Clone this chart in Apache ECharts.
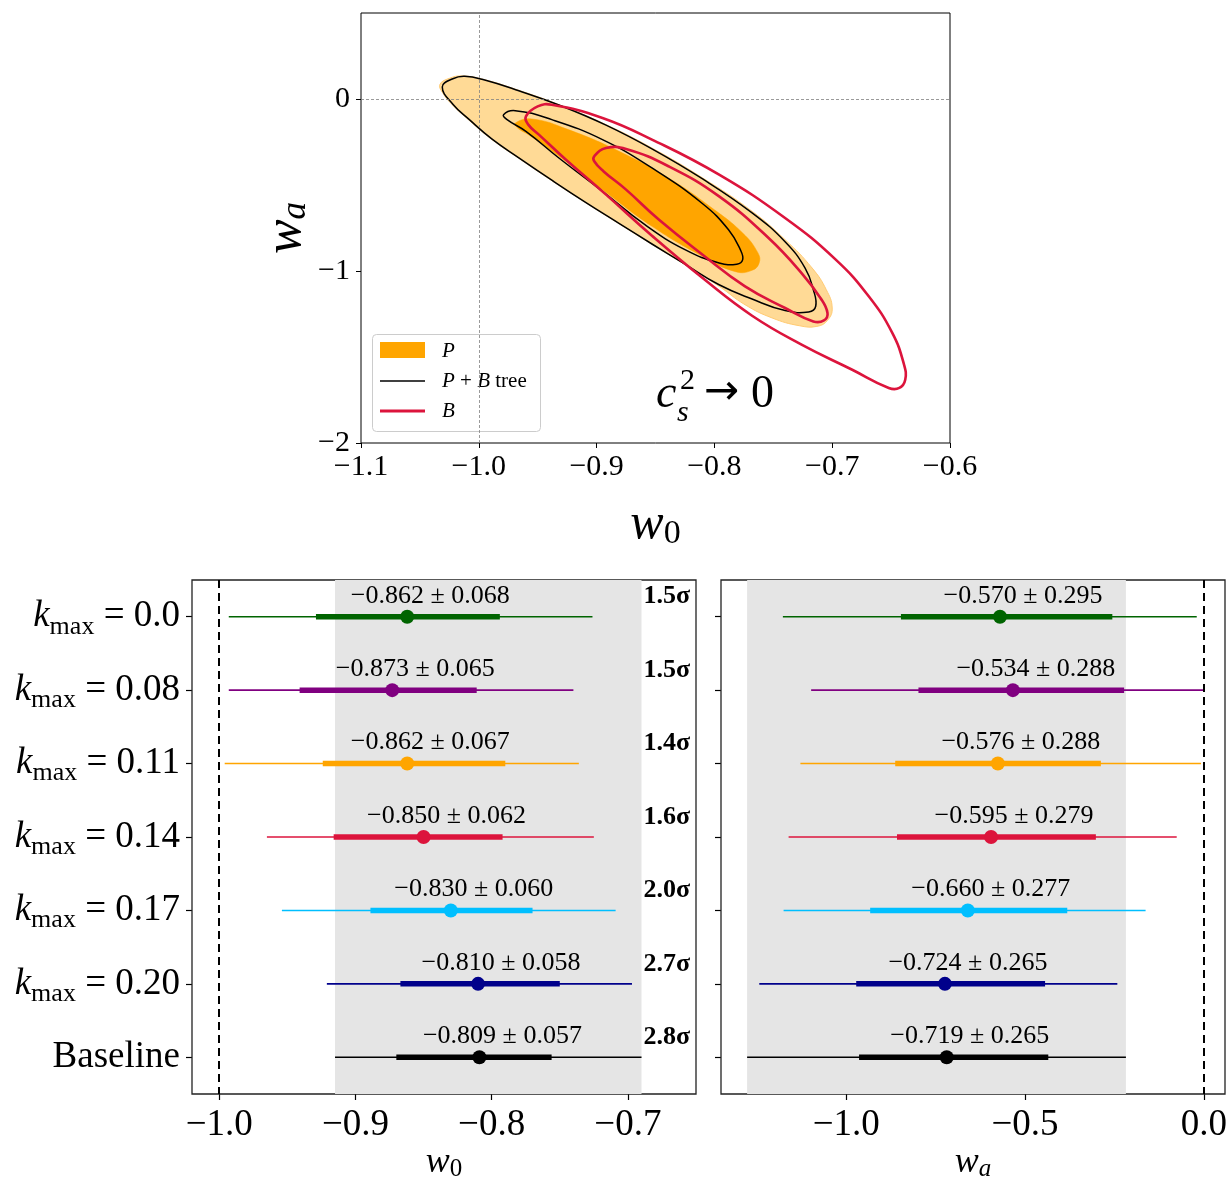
<!DOCTYPE html>
<html><head><meta charset="utf-8">
<script src="https://cdn.jsdelivr.net/npm/echarts@6/dist/echarts.min.js"></script>
<style>html,body{margin:0;padding:0;background:#fff}#c{width:1230px;height:1178px}</style>
</head><body><div id="c"></div>
<script>
// ---------- data ----------
// Top panel contours (w0, wa)
const contourP2 = [[-1.033,0.085],[-1.025,0.120],[-1.014,0.134],[-0.995,0.112],[-0.966,0.050],[-0.932,-0.033],[-0.892,-0.149],[-0.853,-0.285],[-0.810,-0.459],[-0.768,-0.653],[-0.740,-0.818],[-0.717,-0.983],[-0.705,-1.109],[-0.700,-1.215],[-0.704,-1.287],[-0.713,-1.322],[-0.728,-1.318],[-0.751,-1.273],[-0.774,-1.196],[-0.796,-1.089],[-0.825,-0.963],[-0.853,-0.845],[-0.881,-0.725],[-0.910,-0.600],[-0.938,-0.475],[-0.966,-0.345],[-0.989,-0.235],[-1.008,-0.125],[-1.023,-0.030],[-1.031,0.040]];
const contourP1 = [[-0.969,-0.140],[-0.955,-0.116],[-0.924,-0.178],[-0.881,-0.304],[-0.839,-0.459],[-0.802,-0.634],[-0.776,-0.779],[-0.763,-0.895],[-0.762,-0.953],[-0.768,-0.996],[-0.782,-1.004],[-0.810,-0.915],[-0.853,-0.740],[-0.895,-0.527],[-0.932,-0.333],[-0.958,-0.207],[-0.967,-0.169]];
const contourPB2 = [[-1.031,0.070],[-1.022,0.118],[-1.012,0.132],[-0.995,0.110],[-0.966,0.048],[-0.932,-0.035],[-0.892,-0.152],[-0.853,-0.290],[-0.810,-0.465],[-0.768,-0.662],[-0.740,-0.830],[-0.723,-0.983],[-0.716,-1.109],[-0.714,-1.205],[-0.720,-1.238],[-0.740,-1.230],[-0.768,-1.163],[-0.796,-1.080],[-0.825,-0.960],[-0.853,-0.843],[-0.881,-0.723],[-0.910,-0.598],[-0.938,-0.472],[-0.966,-0.342],[-0.989,-0.232],[-1.008,-0.120],[-1.022,-0.030]];
const contourPB1 = [[-0.979,-0.091],[-0.969,-0.068],[-0.938,-0.120],[-0.895,-0.236],[-0.853,-0.401],[-0.810,-0.609],[-0.788,-0.760],[-0.778,-0.876],[-0.776,-0.934],[-0.781,-0.961],[-0.796,-0.953],[-0.825,-0.876],[-0.859,-0.731],[-0.895,-0.537],[-0.932,-0.343],[-0.960,-0.188],[-0.976,-0.120]];
const contourB2 = [[-0.960,-0.101],[-0.950,-0.043],[-0.938,-0.033],[-0.895,-0.110],[-0.853,-0.236],[-0.796,-0.440],[-0.740,-0.692],[-0.697,-0.934],[-0.669,-1.147],[-0.649,-1.360],[-0.639,-1.545],[-0.638,-1.632],[-0.643,-1.680],[-0.652,-1.680],[-0.683,-1.574],[-0.726,-1.428],[-0.768,-1.260],[-0.810,-1.041],[-0.853,-0.795],[-0.892,-0.556],[-0.926,-0.353],[-0.949,-0.207],[-0.958,-0.149]];
const contourB1 = [[-0.902,-0.333],[-0.892,-0.285],[-0.875,-0.291],[-0.839,-0.391],[-0.796,-0.566],[-0.754,-0.808],[-0.726,-1.012],[-0.710,-1.157],[-0.704,-1.244],[-0.707,-1.287],[-0.716,-1.293],[-0.740,-1.215],[-0.774,-1.089],[-0.810,-0.905],[-0.847,-0.702],[-0.875,-0.527],[-0.894,-0.421],[-0.902,-0.362]];

const topXTicks = [-1.1,-1.0,-0.9,-0.8,-0.7,-0.6];
const topYTicks = [-2,-1,0];
const legendNames = ['P','P + B tree','B'];

// Bottom panels
const rowLabels = ['0.0','0.08','0.11','0.14','0.17','0.20','Baseline'];
const w0Mean = [-0.862,-0.873,-0.862,-0.850,-0.830,-0.810,-0.809];
const w0Sig  = [0.068,0.065,0.067,0.062,0.060,0.058,0.057];
const w0Lo1  = [-0.929,-0.941,-0.924,-0.916,-0.889,-0.867,-0.870];
const w0Hi1  = [-0.794,-0.811,-0.790,-0.792,-0.770,-0.750,-0.756];
const w0Lo2  = [-0.993,-0.993,-0.996,-0.965,-0.954,-0.921,-0.915];
const w0Hi2  = [-0.726,-0.740,-0.736,-0.725,-0.709,-0.697,-0.690];
const waMean = [-0.570,-0.534,-0.576,-0.595,-0.660,-0.724,-0.719];
const waSig  = [0.295,0.288,0.288,0.279,0.277,0.265,0.265];
const waLo1  = [-0.847,-0.798,-0.863,-0.858,-0.933,-0.972,-0.964];
const waHi1  = [-0.256,-0.223,-0.288,-0.302,-0.382,-0.444,-0.435];
const waLo2  = [-1.177,-1.098,-1.128,-1.161,-1.175,-1.243,-1.277];
const waHi2  = [-0.020,-0.002,-0.008,-0.076,-0.163,-0.242,-0.218];
const tension = [1.5,1.5,1.4,1.6,2.0,2.7,2.8];
const w0Band = [-0.915,-0.690];
const waBand = [-1.277,-0.218];
const w0Ref = -1.0;
const waRef = 0.0;
const w0Ticks = [-1.0,-0.9,-0.8,-0.7];
const waTicks = [-1.0,-0.5,0.0];

// ---------- styles ----------
const rowColors = ['#006400','#800080','#FFA500','#DC143C','#00BFFF','#00008B','#000000'];
const FONT = '"Liberation Serif","Times New Roman",serif';
const CRIMSON = '#DC143C';

function fmt(v, d){ return (v < 0 ? '\u2212' : '') + Math.abs(v).toFixed(d); }

function polySeries(pts, style, z){
  return {
    type:'custom', xAxisIndex:0, yAxisIndex:0, z:z, silent:true,
    data: pts,
    renderItem: function(params, api){
      if (params.dataIndex !== 0) return null;
      const p = pts.map(q => api.coord(q));
      return {type:'polygon', shape:{points:p, smooth:0.45}, style:style};
    }
  };
}

function barSeries(xi, yi, mean, sig, lo1, hi1, lo2, hi2, withTension){
  return {
    type:'custom', xAxisIndex:xi, yAxisIndex:yi, z:3, silent:true,
    encode:{x:[0,2,3,4,5], y:1},
    data: mean.map((m,i)=>[m, i, lo1[i], hi1[i], lo2[i], hi2[i]]),
    renderItem: function(params, api){
      const i = params.dataIndex;
      const c = api.coord([api.value(0), i]);
      const y = c[1];
      const xl1 = api.coord([api.value(2), i])[0];
      const xh1 = api.coord([api.value(3), i])[0];
      const xl2 = api.coord([api.value(4), i])[0];
      const xh2 = api.coord([api.value(5), i])[0];
      const col = rowColors[i];
      const ch = [
        {type:'line', shape:{x1:xl2,y1:y,x2:xh2,y2:y}, style:{stroke:col,lineWidth:1.6}},
        {type:'line', shape:{x1:xl1,y1:y,x2:xh1,y2:y}, style:{stroke:col,lineWidth:5.5}},
        {type:'circle', shape:{cx:c[0],cy:y,r:7}, style:{fill:col}},
        {type:'text', x:c[0]+23, y:y-21, style:{text: fmt(mean[i],3)+' \u00b1 '+sig[i].toFixed(3), fontFamily:FONT, fontSize:26, fill:'#000', align:'center', verticalAlign:'middle'}}
      ];
      if (withTension){
        const xb = api.coord([w0Band[1], i])[0];
        ch.push({type:'text', x:xb+2, y:y-20, style:{text: tension[i].toFixed(1)+'\u03c3', fontFamily:FONT, fontWeight:'bold', fontSize:26, fill:'#000', align:'left', verticalAlign:'middle'}});
      }
      return {type:'group', children:ch};
    }
  };
}

function bandSeries(xi, yi, band, ref){
  return {
    type:'line', xAxisIndex:xi, yAxisIndex:yi, data:[], z:0, silent:true,
    markArea:{silent:true, itemStyle:{color:'#e5e5e5'}, data:[[{xAxis:band[0]},{xAxis:band[1]}]]},
    markLine:{silent:true, symbol:'none', label:{show:false}, lineStyle:{color:'#000', type:[8,5], width:2}, data:[{xAxis:ref}]}
  };
}

const labelRich = {
  k:{fontFamily:FONT, fontStyle:'italic', fontSize:37, color:'#000'},
  s:{fontFamily:FONT, fontSize:26, color:'#000', padding:[20,0,0,0]},
  n:{fontFamily:FONT, fontSize:37, color:'#000'}
};

const bottomX = (idx, min, max, ticks, sub) => ({
  gridIndex: idx, type:'value', min:min, max:max, position:'bottom',
  axisLine:{show:false, onZero:false}, splitLine:{show:false},
  axisTick:{show:true, customValues:ticks, length:6, lineStyle:{color:'#000', width:1.2}},
  axisLabel:{customValues:ticks, formatter:v=>fmt(v,1), fontFamily:FONT, fontSize:37, color:'#000', margin:13},
  name:'{w|w}{s|'+sub+'}', nameLocation:'middle', nameGap:47,
  nameTextStyle:{rich:{w:{fontFamily:FONT, fontStyle:'italic', fontSize:36, color:'#000'}, s:{fontFamily:FONT, fontStyle: sub==='a'?'italic':'normal', fontSize:25, color:'#000', padding:[14,0,0,0]}}}
});

const bottomY = (idx, showLabels) => ({
  gridIndex: idx, type:'category', data: rowLabels, inverse:true, position:'left',
  axisLine:{show:false, onZero:false}, splitLine:{show:false},
  axisTick:{show:true, alignWithLabel:true, length:6, lineStyle:{color:'#000', width:1.2}},
  axisLabel:{show:showLabels, interval:0, margin:12,
    formatter: v => v === 'Baseline' ? '{n|Baseline}' : '{k|k}{s|max}{n| = '+v+'}',
    rich: labelRich}
});

const chart = echarts.init(document.getElementById('c'), null, {renderer:'canvas'});
chart.setOption({
  backgroundColor:'#fff',
  animation:false,
  grid:[
    {left:361, top:13, width:589, height:430, show:true, borderColor:'#000', borderWidth:1, z:1, outerBoundsMode:'none', containLabel:false},
    {left:192, top:580, width:504, height:514, show:true, borderColor:'#222', borderWidth:1.3, z:1, outerBoundsMode:'none', containLabel:false},
    {left:721, top:580, width:504, height:514, show:true, borderColor:'#222', borderWidth:1.3, z:1, outerBoundsMode:'none', containLabel:false}
  ],
  xAxis:[
    {gridIndex:0, type:'value', min:-1.1, max:-0.6, position:'bottom',
     axisLine:{show:false, onZero:false}, splitLine:{show:false},
     axisTick:{show:true, customValues:topXTicks, length:5, lineStyle:{color:'#000'}},
     axisLabel:{customValues:topXTicks, formatter:v=>fmt(v,1), fontFamily:FONT, fontSize:30, color:'#000', margin:9},
     name:'{w|w}{s|0}', nameLocation:'middle', nameGap:56,
     nameTextStyle:{rich:{w:{fontFamily:FONT, fontStyle:'italic', fontSize:50, color:'#000'}, s:{fontFamily:FONT, fontSize:34, color:'#000', padding:[18,0,0,0]}}}},
    bottomX(1, -1.02, -0.65, w0Ticks, '0'),
    bottomX(2, -1.35, 0.059, waTicks, 'a')
  ],
  yAxis:[
    {gridIndex:0, type:'value', min:-2, max:0.5, position:'left',
     axisLine:{show:false, onZero:false}, splitLine:{show:false},
     axisTick:{show:true, customValues:topYTicks, length:5, lineStyle:{color:'#000'}},
     axisLabel:{customValues:topYTicks, formatter:v=>fmt(v,0), fontFamily:FONT, fontSize:30, color:'#000', margin:11},
     name:'{w|w}{s|a}', nameLocation:'middle', nameRotate:90, nameGap:48,
     nameTextStyle:{rich:{w:{fontFamily:FONT, fontStyle:'italic', fontSize:52, color:'#000'}, s:{fontFamily:FONT, fontStyle:'italic', fontSize:35, color:'#000', padding:[18,0,0,0]}}}},
    bottomY(1, true),
    bottomY(2, false)
  ],
  series:[
    polySeries(contourP2, {fill:'#FFDA96', stroke:'#FFCB73', lineWidth:1}, 2),
    polySeries(contourP1, {fill:'#FFA500', stroke:'#FFA500', lineWidth:0.5}, 2),
    {type:'line', xAxisIndex:0, yAxisIndex:0, data:[], z:3, silent:true,
     markLine:{silent:true, symbol:'none', label:{show:false}, lineStyle:{color:'#808080', type:[3,2], width:0.8},
       data:[{xAxis:-1.0},{yAxis:0}]}},
    polySeries(contourPB2, {fill:'none', stroke:'#000', lineWidth:1.5}, 4),
    polySeries(contourPB1, {fill:'none', stroke:'#000', lineWidth:1.5}, 4),
    polySeries(contourB2, {fill:'none', stroke:CRIMSON, lineWidth:2.6}, 5),
    polySeries(contourB1, {fill:'none', stroke:CRIMSON, lineWidth:2.6}, 5),
    bandSeries(1, 1, w0Band, w0Ref),
    bandSeries(2, 2, waBand, waRef),
    barSeries(1, 1, w0Mean, w0Sig, w0Lo1, w0Hi1, w0Lo2, w0Hi2, true),
    barSeries(2, 2, waMean, waSig, waLo1, waHi1, waLo2, waHi2, false)
  ],
  graphic:[
    {type:'group', z:10, children:[
      {type:'rect', shape:{x:372.5, y:334.5, width:168, height:97, r:4}, style:{fill:'rgba(255,255,255,0.8)', stroke:'#cccccc', lineWidth:1}},
      {type:'rect', shape:{x:380, y:342, width:45, height:16}, style:{fill:'#FFA500'}},
      {type:'line', shape:{x1:380, y1:381, x2:425, y2:381}, style:{stroke:'#000', lineWidth:1.5}},
      {type:'line', shape:{x1:380, y1:411, x2:425, y2:411}, style:{stroke:CRIMSON, lineWidth:3}},
      {type:'text', x:442, y:351, style:{text:legendNames[0], fontFamily:FONT, fontStyle:'italic', fontSize:21, fill:'#000', verticalAlign:'middle'}},
      {type:'text', x:442, y:381, style:{text:'{i|P} + {i|B} tree', rich:{i:{fontFamily:FONT, fontStyle:'italic', fontSize:21, fill:'#000'}}, fontFamily:FONT, fontSize:21, fill:'#000', verticalAlign:'middle'}},
      {type:'text', x:442, y:411, style:{text:legendNames[2], fontFamily:FONT, fontStyle:'italic', fontSize:21, fill:'#000', verticalAlign:'middle'}},
      {type:'text', x:656, y:395, style:{text:'c', fontFamily:FONT, fontStyle:'italic', fontSize:46, fill:'#000', verticalAlign:'middle'}},
      {type:'text', x:680, y:381, style:{text:'2', fontFamily:FONT, fontSize:30, fill:'#000', verticalAlign:'middle'}},
      {type:'text', x:677, y:413, style:{text:'s', fontFamily:FONT, fontStyle:'italic', fontSize:30, fill:'#000', verticalAlign:'middle'}},
      {type:'text', x:704, y:393, style:{text:'\u2192', fontFamily:'"DejaVu Sans",sans-serif', fontSize:42, fill:'#000', verticalAlign:'middle'}},
      {type:'text', x:751, y:395, style:{text:'0', fontFamily:FONT, fontSize:46, fill:'#000', verticalAlign:'middle'}}
    ]}
  ]
});
</script>
</body></html>
